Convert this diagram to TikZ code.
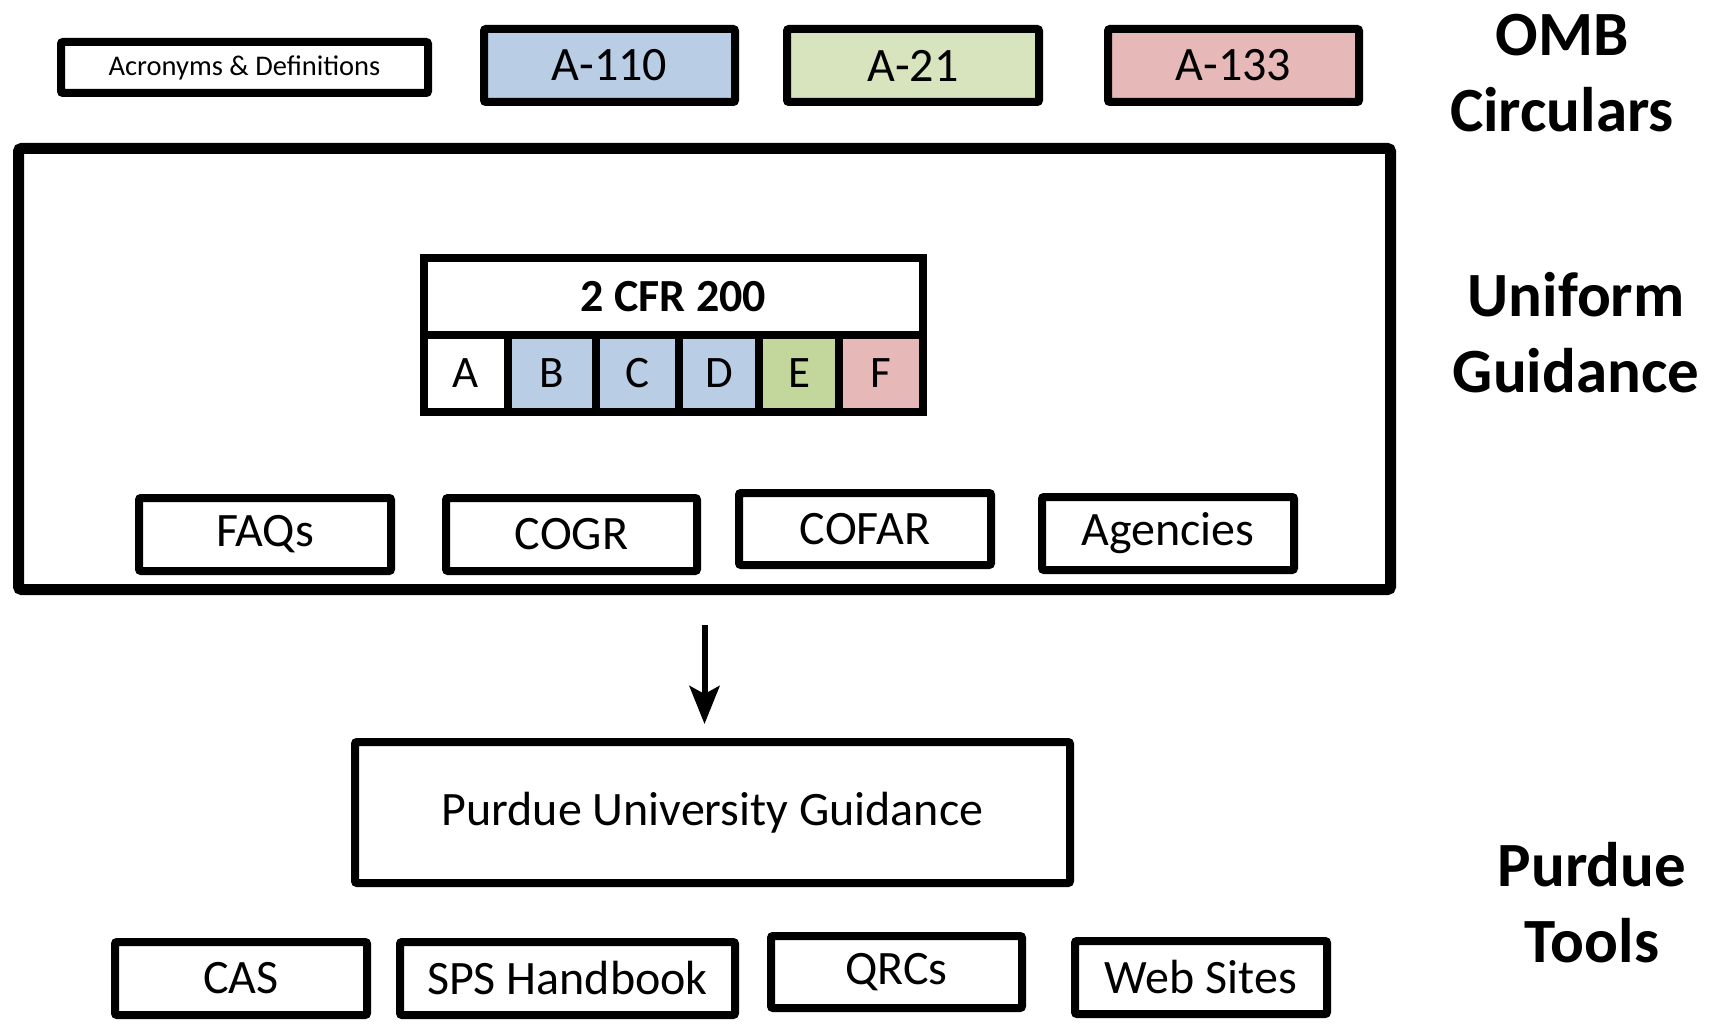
\documentclass[tikz,border=0pt]{standalone}
\usepackage{fontspec}
\setmainfont{Carlito}
\usetikzlibrary{arrows.meta}
\definecolor{cblue}{HTML}{B9CDE5}
\definecolor{cgreen}{HTML}{D7E4BD}
\definecolor{cgreenE}{HTML}{C3D69B}
\definecolor{cpink}{HTML}{E6B9B8}
\tikzset{
  box/.style={draw, line width=8pt, rounded corners=2pt, inner sep=0pt, fill=white,
    minimum width=252pt, minimum height=73pt, font=\fontsize{48}{52}\selectfont},
  cell/.style={draw, line width=8pt, inner sep=0pt, minimum height=77pt,
    font=\fontsize{45}{48}\selectfont},
  sidelabel/.style={align=center, font=\fontsize{63}{76}\selectfont\bfseries},
  arr/.style={line width=6pt, -{Stealth[length=38pt, width=30pt, inset=8pt]}}
}
\begin{document}
\begin{tikzpicture}[x=1pt, y=-1pt]
\useasboundingbox (0,0) rectangle (1710,1024);
\fill[white] (0,0) rectangle (1710,1024);
% top row
\node[box, minimum width=367pt, minimum height=51pt, font=\fontsize{28.5}{32}\selectfont] (acr) at (244.5,67.5) {Acronyms \& Definitions};
\node[box, fill=cblue, minimum width=251pt] (a110) at (609.5,65.5) {A-110};
\node[box, fill=cgreen, minimum width=252pt] (a21) at (913,65.5) {A-21};
\node[box, fill=cpink, minimum width=251pt] (a133) at (1233.5,65.5) {A-133};
\node[sidelabel] (omb) at (1562,73) {OMB\\Circulars};
% big box
\node[draw, line width=11pt, rounded corners=3pt, minimum width=1372pt, minimum height=441pt, inner sep=0pt] (big) at (704.5,369) {};
% 2 CFR 200 table
\node[cell, minimum width=499pt, font=\fontsize{46}{50}\selectfont\bfseries] (cfr) at (673.5,296.5) {2 CFR 200};
\node[cell, minimum width=84pt, fill=white] (ca) at (466,373.5) {A};
\node[cell, minimum width=88pt, fill=cblue] (cb) at (552,373.5) {B};
\node[cell, minimum width=83pt, fill=cblue] (cc) at (637.5,373.5) {C};
\node[cell, minimum width=80pt, fill=cblue] (cd) at (719,373.5) {D};
\node[cell, minimum width=80pt, fill=cgreenE] (ce) at (799,373.5) {E};
\node[cell, minimum width=84pt, fill=cpink] (cf) at (881,373.5) {F};
% inner row
\node[box] (faqs) at (265,534.5) {FAQs};
\node[box, minimum width=251pt] (cogr) at (571.5,534.5) {COGR};
\node[box, minimum height=72pt] (cofar) at (865,529) {COFAR};
\node[box] (agen) at (1168,533.5) {Agencies};
\node[sidelabel] (ug) at (1576,333) {Uniform\\Guidance};
% arrow and Purdue guidance
\node[box, minimum width=715pt, minimum height=141pt] (pug) at (712.5,812.5) {Purdue University Guidance};
\draw[arr, shorten <=30pt, shorten >=14pt] (big.south) -- (big.south |- pug.north);
% bottom row
\node[box] (cas) at (241,978.5) {CAS};
\node[box, minimum width=335pt] (sps) at (567.5,978.5) {SPS Handbook};
\node[box, minimum width=251pt, minimum height=72pt] (qrcs) at (896.5,972) {QRCs};
\node[box] (web) at (1201,977.5) {Web Sites};
\node[sidelabel] (pt) at (1592,903) {Purdue\\Tools};
\end{tikzpicture}
\end{document}
